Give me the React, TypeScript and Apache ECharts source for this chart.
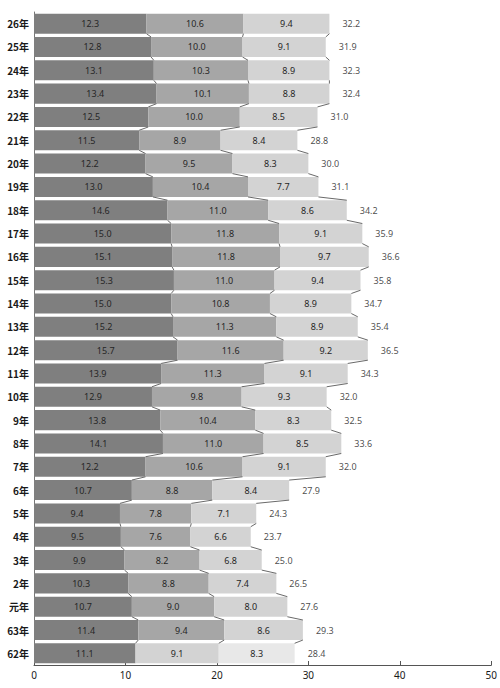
import { useEffect, useRef } from 'react';
import * as echarts from 'echarts';

// top to bottom, as in the picture
const years = [
  '26年', '25年', '24年', '23年', '22年', '21年', '20年', '19年', '18年', '17年',
  '16年', '15年', '14年', '13年', '12年', '11年', '10年', '9年', '8年', '7年',
  '6年', '5年', '4年', '3年', '2年', '元年', '63年', '62年',
];
const partA = [
  12.3, 12.8, 13.1, 13.4, 12.5, 11.5, 12.2, 13.0, 14.6, 15.0,
  15.1, 15.3, 15.0, 15.2, 15.7, 13.9, 12.9, 13.8, 14.1, 12.2,
  10.7, 9.4, 9.5, 9.9, 10.3, 10.7, 11.4, 11.1,
];
const partB = [
  10.6, 10.0, 10.3, 10.1, 10.0, 8.9, 9.5, 10.4, 11.0, 11.8,
  11.8, 11.0, 10.8, 11.3, 11.6, 11.3, 9.8, 10.4, 11.0, 10.6,
  8.8, 7.8, 7.6, 8.2, 8.8, 9.0, 9.4, 9.1,
];
const partC = [
  9.4, 9.1, 8.9, 8.8, 8.5, 8.4, 8.3, 7.7, 8.6, 9.1,
  9.7, 9.4, 8.9, 8.9, 9.2, 9.1, 9.3, 8.3, 8.5, 9.1,
  8.4, 7.1, 6.6, 6.8, 7.4, 8.0, 8.6, 8.3,
];
const totals = [
  32.2, 31.9, 32.3, 32.4, 31.0, 28.8, 30.0, 31.1, 34.2, 35.9,
  36.6, 35.8, 34.7, 35.4, 36.5, 34.3, 32.0, 32.5, 33.6, 32.0,
  27.9, 24.3, 23.7, 25.0, 26.5, 27.6, 29.3, 28.4,
];
const xTicks = [0, 10, 20, 30, 40, 50];

const GAP = 0.14;
const FONT = '"Noto Sans", sans-serif';

export default function App() {
  const ref = useRef<HTMLDivElement>(null);

  useEffect(() => {
    if (!ref.current) return;
    const chart = echarts.init(ref.current, undefined, { renderer: 'svg' });
    const last = years.length - 1;

    const segLabel = {
      show: true,
      position: 'inside',
      color: '#262626',
      fontSize: 9,
      fontFamily: FONT,
      formatter: (p: any) => (+p.value).toFixed(1),
    };

    const bar = (name: string, vals: number[], color: string, lastColor?: string) => ({
      name,
      type: 'bar',
      stack: 'all',
      barCategoryGap: `${GAP * 100}%`,
      data: vals.map((v, i) =>
        i === last && lastColor ? { value: v, itemStyle: { color: lastColor } } : v,
      ),
      itemStyle: { color },
      label: segLabel,
      z: 2,
    });

    const cumA = partA;
    const cumB = partA.map((v, i) => v + partB[i]);
    const cumC = cumB.map((v, i) => v + partC[i]);

    chart.setOption({
      animation: false,
      backgroundColor: '#fff',
      grid: { left: 34, right: 7, top: 12, bottom: 23 },
      xAxis: {
        type: 'value',
        min: 0,
        max: 50,
        interval: 10,
        axisLine: { show: true, lineStyle: { color: '#555', width: 1 } },
        axisTick: { show: true, inside: true, length: 4, lineStyle: { color: '#555' } },
        axisLabel: {
          color: '#1a1a1a',
          fontSize: 10,
          fontFamily: FONT,
          margin: 5,
          formatter: (v: number) => (xTicks.includes(v) ? String(v) : ''),
        },
        splitLine: { show: false },
      },
      yAxis: {
        type: 'category',
        inverse: true,
        data: years,
        axisLine: { show: true, lineStyle: { color: '#777', width: 1 } },
        axisTick: { show: false },
        axisLabel: {
          color: '#1a1a1a',
          fontSize: 10,
          fontWeight: 'bold',
          fontFamily: '"Noto Sans CJK JP", sans-serif',
          margin: 5,
        },
      },
      series: [
        bar('a', partA, '#7f7f7f'),
        bar('b', partB, '#a6a6a6', '#d3d3d3'),
        bar('c', partC, '#d3d3d3', '#e8e8e8'),
        {
          type: 'scatter',
          symbolSize: 0,
          data: totals.map((t, i) => [cumC[i], i, t]),
          label: {
            show: true,
            position: 'right',
            distance: 13,
            color: '#1a1a1a',
            fontSize: 9,
            fontFamily: FONT,
            formatter: (p: any) => (+p.value[2]).toFixed(1),
          },
          z: 3,
        },
        {
          type: 'custom',
          data: years.slice(0, -1).map((_, i) => [0, i]),
          renderItem: (params: any, api: any) => {
            const i = params.dataIndex;
            const band = api.size([0, 1])[1];
            const half = (band * (1 - GAP)) / 2;
            const children = [cumA, cumB, cumC].map((cum) => {
              const p1 = api.coord([cum[i], i]);
              const p2 = api.coord([cum[i + 1], i + 1]);
              return {
                type: 'line',
                shape: { x1: p1[0], y1: p1[1] + half, x2: p2[0], y2: p2[1] - half },
                style: { stroke: '#6a6a6a', lineWidth: 1 },
              };
            });
            return { type: 'group', children };
          },
          z: 4,
        },
      ],
    });

    return () => chart.dispose();
  }, []);

  return (
    <div
      ref={ref}
      style={{ position: 'absolute', left: 0, top: 0, width: 500, height: 688 }}
    />
  );
}
